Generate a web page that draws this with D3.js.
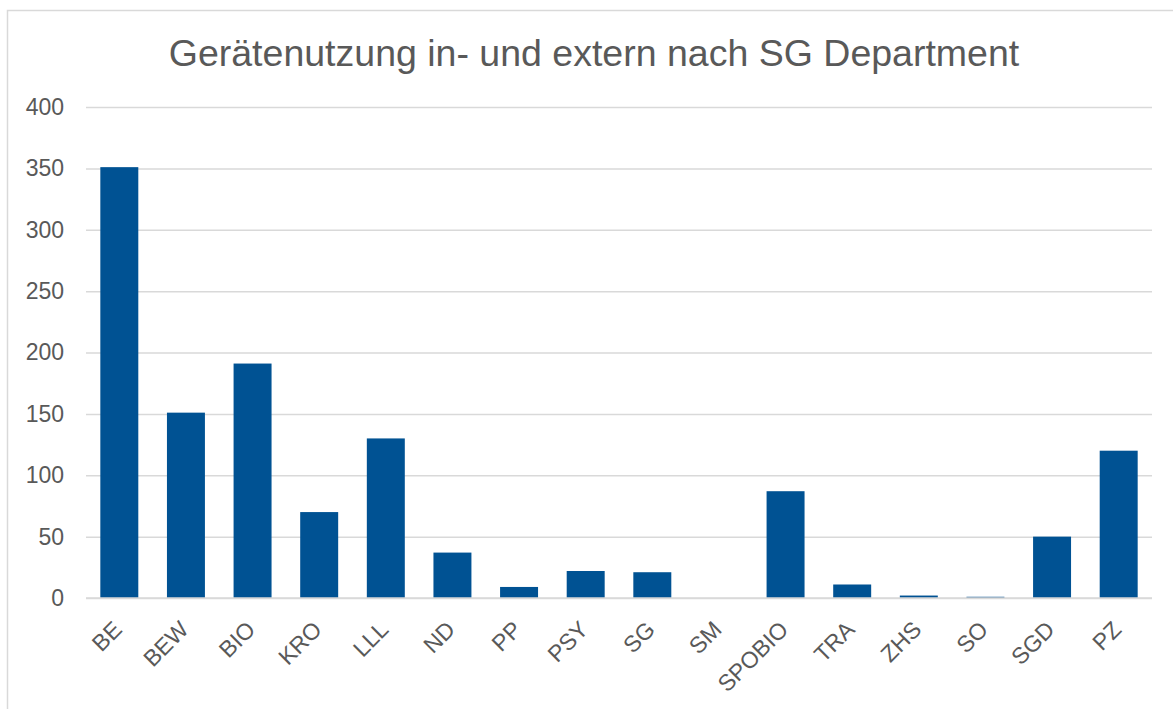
<!DOCTYPE html>
<html>
<head>
<meta charset="utf-8">
<script src="https://cdn.jsdelivr.net/npm/d3@7"></script>
<style>
  body { margin: 0; background: #fff; font-family: "Liberation Sans", Arial, sans-serif; }
</style>
</head>
<body>
<div id="chart"></div>
<script>
// Data
const departments = ["BE", "BEW", "BIO", "KRO", "LLL", "ND", "PP", "PSY", "SG", "SM", "SPOBIO", "TRA", "ZHS", "SO", "SGD", "PZ"];
const usage = [351, 151, 191, 70, 130, 37, 9, 22, 21, 0, 87, 11, 2, 1, 50, 120];
const yTicks = [0, 50, 100, 150, 200, 250, 300, 350, 400];

const W = 1173, H = 709;
const margin = {top: 107, right: 21, bottom: 111, left: 86};
const width = W - margin.left - margin.right;
const height = H - margin.top - margin.bottom;

const root = d3.select("#chart")
  .append("svg")
  .attr("width", W)
  .attr("height", H);

// chart frame
root.append("rect")
  .attr("x", 7.5).attr("y", 10.5)
  .attr("width", W).attr("height", H)
  .attr("fill", "none")
  .attr("stroke", "#d9d9d9")
  .attr("stroke-width", 1.5);

root.append("text")
  .attr("x", 594)
  .attr("y", 66)
  .attr("text-anchor", "middle")
  .style("font-size", "37.5px")
  .style("fill", "#595959")
  .text("Gerätenutzung in- und extern nach SG Department");

const svg = root.append("g")
  .attr("transform", `translate(${margin.left},${margin.top})`);

const x = d3.scaleBand()
  .domain(departments)
  .range([0, width])
  .paddingInner(0.43)
  .paddingOuter(0.215);

const y = d3.scaleLinear()
  .domain([0, 400])
  .range([height, 0]);

// grid lines
svg.append("g")
  .attr("class", "grid")
  .call(d3.axisLeft(y).tickValues(yTicks).tickSize(-width).tickFormat(""))
  .call(g => g.select(".domain").remove())
  .call(g => g.selectAll("line").attr("stroke", "#d9d9d9").attr("stroke-width", 1.5));

// y axis labels
const yAxisG = svg.append("g")
  .attr("class", "y axis")
  .attr("transform", "translate(-22,0)")
  .call(d3.axisLeft(y).tickValues(yTicks).tickSize(0).tickPadding(0));
yAxisG.select(".domain").remove();
yAxisG.attr("font-size", 23).attr("font-family", "'Liberation Sans', Arial, sans-serif");
yAxisG.selectAll("text").attr("fill", "#595959");

// bars
svg.selectAll(".bar")
  .data(departments)
  .enter()
  .append("rect")
  .attr("class", "bar")
  .attr("x", d => x(d))
  .attr("width", x.bandwidth())
  .attr("y", (d, i) => y(usage[i]))
  .attr("height", (d, i) => height - y(usage[i]))
  .attr("fill", "#005293");

// x axis baseline
svg.append("line")
  .attr("x1", 0).attr("x2", width)
  .attr("y1", height).attr("y2", height)
  .attr("stroke", "#d9d9d9")
  .attr("stroke-width", 1.5);

// x labels
const xAxisG = svg.append("g")
  .attr("class", "x axis")
  .attr("transform", `translate(0,${height})`)
  .call(d3.axisBottom(x).tickSize(0).tickPadding(0));
xAxisG.select(".domain").remove();
xAxisG.attr("font-size", 23).attr("font-family", "'Liberation Sans', Arial, sans-serif");
xAxisG.selectAll("text")
  .attr("text-anchor", "end")
  .attr("dy", 0)
  .attr("y", 0)
  .attr("transform", "translate(4,33) rotate(-45)")
  .attr("fill", "#595959");
</script>
</body>
</html>
